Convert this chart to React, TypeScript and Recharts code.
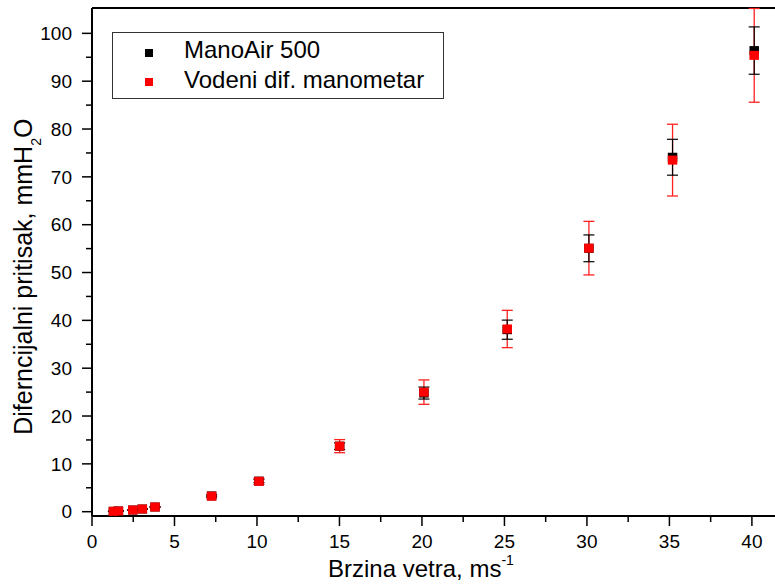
import { ScatterChart, Scatter, XAxis, YAxis, ErrorBar, ReferenceLine, Legend } from 'recharts';

// wind speed, m/s
const speed = [1.3, 1.6, 2.47, 3.05, 3.82, 7.25, 10.12, 15.01, 20.12, 25.17, 30.12, 35.19, 40.14];

// ManoAir 500, mmH2O
const manoAir = [0.08, 0.15, 0.35, 0.56, 0.98, 3.3, 6.4, 13.7, 24.8, 38.05, 55.06, 74.1, 96.4];
const manoAirErr = [0.01, 0.02, 0.03, 0.04, 0.05, 0.17, 0.32, 0.7, 1.25, 2.0, 2.8, 3.75, 4.95];

// Vodeni dif. manometar, mmH2O
const vodeni = [0.08, 0.15, 0.35, 0.56, 0.98, 3.25, 6.35, 13.7, 25.0, 38.2, 55.1, 73.5, 95.4];
const vodeniErr = [0.02, 0.03, 0.05, 0.07, 0.1, 0.33, 0.64, 1.37, 2.55, 3.9, 5.6, 7.5, 9.8];

const xMajor = [0, 5, 10, 15, 20, 25, 30, 35, 40];
const xMinor = [2.5, 7.5, 12.5, 17.5, 22.5, 27.5, 32.5, 37.5];
const yMajor = [0, 10, 20, 30, 40, 50, 60, 70, 80, 90, 100];
const yMinor = [5, 15, 25, 35, 45, 55, 65, 75, 85, 95];

const X_DOMAIN = [0, 41.4];
const Y_DOMAIN = [-0.9, 105.3];

const FONT = '"Liberation Sans", Arial, sans-serif';
const TICK_LEN = 10;
const MINOR_LEN = 6;
const X_GAP = 9;
const Y_GAP = 10;

const manoData = speed.map((x, i) => ({ x, y: manoAir[i], err: manoAirErr[i] }));
const vodeniData = speed.map((x, i) => ({ x, y: vodeni[i], err: vodeniErr[i] }));

function XTick(props: any) {
    const { x, y, payload } = props;
    const major = xMajor.includes(payload.value);
    const y0 = y - TICK_LEN - X_GAP;
    return (
        <g>
            <line x1={x} x2={x} y1={y0} y2={y0 + (major ? TICK_LEN : MINOR_LEN)} stroke="#000" strokeWidth={1.5} />
            {major && (
                <text x={x} y={y} dy="0.71em" textAnchor="middle" fontSize={19} fill="#000" fontFamily={FONT}>
                    {payload.value}
                </text>
            )}
        </g>
    );
}

function YTick(props: any) {
    const { x, y, payload } = props;
    const major = yMajor.includes(payload.value);
    const x0 = x + TICK_LEN + Y_GAP;
    return (
        <g>
            <line x1={x0} x2={x0 - (major ? TICK_LEN : MINOR_LEN)} y1={y} y2={y} stroke="#000" strokeWidth={1.5} />
            {major && (
                <text x={x} y={y} dy="0.355em" textAnchor="end" fontSize={19} fill="#000" fontFamily={FONT}>
                    {payload.value}
                </text>
            )}
        </g>
    );
}

const square = (color: string) => (props: any) =>
    <rect x={props.cx - 4.75} y={props.cy - 4.5} width={9.5} height={9} fill={color} />;

function renderLegend(props: any) {
    const items = (props.payload || []).filter((p: any) => p.type !== 'none');
    return (
        <div
            style={{
                width: 330,
                height: 65,
                border: '1.5px solid #333',
                background: '#fff',
                position: 'relative',
                fontFamily: FONT,
                fontSize: 24,
                lineHeight: '24px',
                color: '#000',
            }}
        >
            {items.map((p: any, i: number) => (
                <div key={p.value}>
                    <div
                        style={{
                            position: 'absolute',
                            left: 32,
                            top: 16 + i * 29,
                            width: 8,
                            height: 8,
                            background: p.color,
                        }}
                    />
                    <div style={{ position: 'absolute', left: 71, top: 5 + i * 30, whiteSpace: 'nowrap' }}>{p.value}</div>
                </div>
            ))}
        </div>
    );
}

export default function App() {
    return (
        <div style={{ position: 'absolute', left: 0, top: 0, width: 775, height: 588, overflow: 'hidden', background: '#fff' }}>
            <ScatterChart width={775} height={588} margin={{ top: 8, right: 0, bottom: 0, left: 0 }}>
                <XAxis
                    type="number"
                    dataKey="x"
                    domain={X_DOMAIN}
                    ticks={[...xMajor, ...xMinor].sort((a, b) => a - b)}
                    interval={0}
                    height={72}
                    tickSize={TICK_LEN}
                    tickMargin={X_GAP}
                    tickLine={false}
                    tick={<XTick />}
                    axisLine={{ stroke: '#000', strokeWidth: 2 }}
                    allowDataOverflow
                />
                <YAxis
                    type="number"
                    dataKey="y"
                    domain={Y_DOMAIN}
                    ticks={[...yMajor, ...yMinor].sort((a, b) => a - b)}
                    interval={0}
                    width={92}
                    tickSize={TICK_LEN}
                    tickMargin={Y_GAP}
                    tickLine={false}
                    tick={<YTick />}
                    axisLine={{ stroke: '#000', strokeWidth: 2 }}
                    allowDataOverflow
                />
                <ReferenceLine y={Y_DOMAIN[1]} stroke="#000" strokeWidth={2} />
                <Scatter
                    name="ManoAir 500"
                    data={manoData}
                    fill="#000000"
                    shape={square('#000000')}
                    isAnimationActive={false}
                />
                <Scatter
                    name="Vodeni dif. manometar"
                    data={vodeniData}
                    fill="#ff0000"
                    shape={square('#ff0000')}
                    isAnimationActive={false}
                >
                    <ErrorBar dataKey="err" direction="y" width={5.5} stroke="#ff2020" strokeWidth={1.3} isAnimationActive={false} />
                </Scatter>
                {/* black error bars drawn last, over the red squares */}
                <Scatter
                    name="ManoAir err"
                    data={manoData}
                    fill="#000000"
                    legendType="none"
                    shape={() => <g />}
                    isAnimationActive={false}
                >
                    <ErrorBar dataKey="err" direction="y" width={5.5} stroke="#000" strokeWidth={1.2} isAnimationActive={false} />
                </Scatter>
                <Legend
                    layout="horizontal"
                    verticalAlign="middle"
                    align="center"
                    content={renderLegend}
                    wrapperStyle={{ left: 112, top: 32, width: 333, height: 68 }}
                />
                <text x={328} y={577} fontFamily={FONT} fontSize={24} fill="#000">
                    <tspan>Brzina vetra, ms</tspan>
                    <tspan fontSize={14} dy={-12}>-1</tspan>
                </text>
                <text
                    x={31.7}
                    y={276.7}
                    transform="rotate(-90, 31.7, 276.7)"
                    textAnchor="middle"
                    fontFamily={FONT}
                    fontSize={25}
                    fill="#000"
                >
                    <tspan>Diferncijalni pritisak, mmH</tspan>
                    <tspan fontSize={14} dy={9}>2</tspan>
                    <tspan dy={-9}>O</tspan>
                </text>
            </ScatterChart>
        </div>
    );
}
